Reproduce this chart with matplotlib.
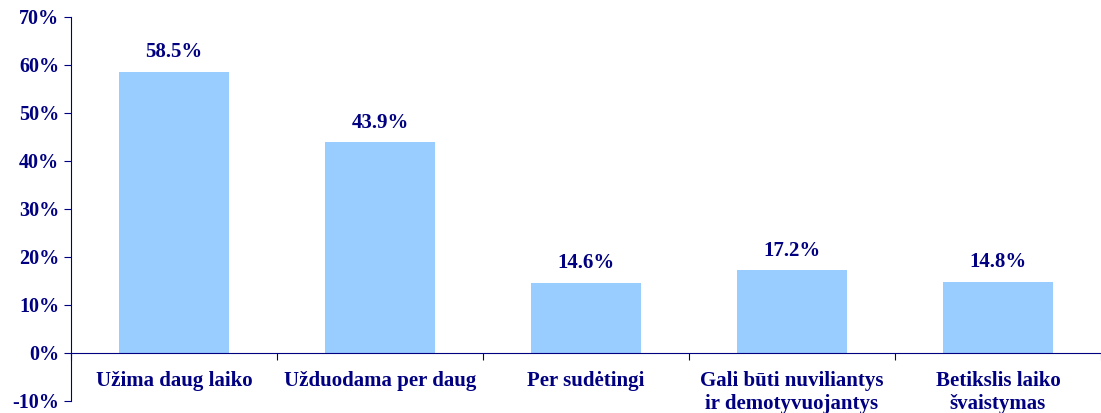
import matplotlib.pyplot as plt
import numpy as np

# Data
categories = ['Užima daug laiko', 'Užduodama per daug', 'Per sudėtingi',
              'Gali būti nuviliantys\nir demotyvuojantys', 'Betikslis laiko\nšvaistymas']
values = [58.5, 43.9, 14.6, 17.2, 14.8]
yticks = [-10, 0, 10, 20, 30, 40, 50, 60, 70]

navy = '#000080'
bar_color = '#99CCFF'
plt.rcParams['font.family'] = ['Liberation Serif', 'DejaVu Serif']
plt.rcParams['font.weight'] = 'bold'

fig = plt.figure(figsize=(11.01, 4.13), dpi=100)
ax = fig.add_axes([71 / 1101, 12 / 413, 1030 / 1101, 384 / 413])

x = np.arange(len(categories))
bars = ax.bar(x, values, width=0.53, color=bar_color, zorder=2)

for bar, v in zip(bars, values):
    ax.annotate(f'{v:.1f}%', (bar.get_x() + bar.get_width() / 2, v),
                xytext=(0, 7), textcoords='offset points',
                ha='center', va='bottom', fontsize=15, fontweight='bold', color=navy)

ax.set_xlim(-0.5, len(categories) - 0.5)
ax.set_ylim(-10, 70)
ax.set_yticks(yticks)
ax.set_yticklabels([f'{t}%' for t in yticks])

for s in ['top', 'right']:
    ax.spines[s].set_visible(False)
ax.spines['bottom'].set_position(('data', 0))
ax.spines['bottom'].set_color(navy)
ax.spines['left'].set_color(navy)

# category ticks between bars, labels below the axis
ax.set_xticks(np.arange(len(categories) + 1) - 0.5)
ax.set_xticklabels([])
ax.tick_params(axis='x', direction='out', length=5, color=navy)
ax.tick_params(axis='y', direction='out', length=5, color=navy,
               labelcolor=navy, labelsize=14.5)
for lab in ax.get_yticklabels():
    lab.set_fontweight('bold')

for i, c in enumerate(categories):
    ax.text(i, -3.8, c, ha='center', va='top', fontsize=15,
            fontweight='bold', color=navy, linespacing=1.2)

fig.savefig('out.png', dpi=100)
